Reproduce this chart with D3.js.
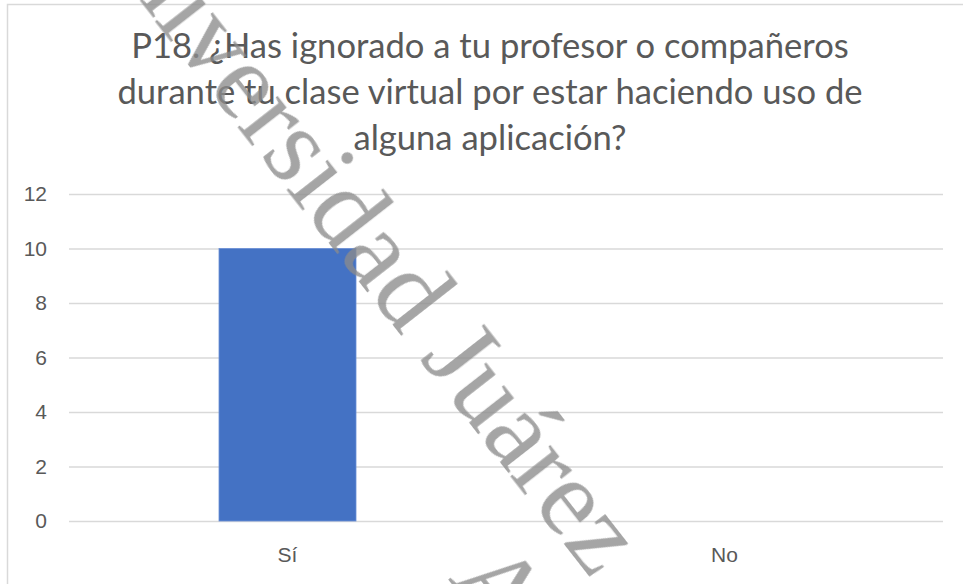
<!DOCTYPE html>
<html>
<head>
<meta charset="utf-8">
<script src="https://cdn.jsdelivr.net/npm/d3@7"></script>
<style>
	body { margin: 0; background: #fff; }
	svg { display: block; font-family: Lato, "Open Sans", sans-serif; }
</style>
</head>
<body>
<div id="chart"></div>
<script>
// Data
var categories = ['Sí', 'No'];
var values = [10, 0];
var yTicks = [0, 2, 4, 6, 8, 10, 12];
var titleLines = [
	'P18. ¿Has ignorado a tu profesor o compañeros',
	'durante tu clase virtual por estar haciendo uso de',
	'alguna aplicación?'
];
var watermarkLines = ['Universidad Juárez', 'Autónoma de Tabasco'];

var width = 963,
	height = 584,
	margin = {top: 194, right: 20, bottom: 63, left: 69},
	plotRight = 943;

var svg = d3.select('#chart').append('svg')
	.attr('width', width)
	.attr('height', height);

// chart frame
svg.append('rect')
	.attr('x', 7.5).attr('y', 4.5)
	.attr('width', width + 20).attr('height', height + 20)
	.attr('fill', 'none')
	.attr('stroke', '#d9d9d9')
	.attr('stroke-width', 1.5);

var x = d3.scaleBand()
	.domain(categories)
	.range([margin.left, plotRight])
	.paddingInner(0.6865)
	.paddingOuter(0.6865 / 2);

var y = d3.scaleLinear()
	.domain([0, 12])
	.range([height - margin.bottom, margin.top]);

// gridlines + y labels
var yAxis = d3.axisLeft(y)
	.tickValues(yTicks)
	.tickSize(-(plotRight - margin.left))
	.tickPadding(22);

var gy = svg.append('g')
	.attr('transform', 'translate(' + margin.left + ',0)')
	.call(yAxis);
gy.select('.domain').remove();
gy.selectAll('line')
	.attr('stroke', '#d9d9d9')
	.attr('stroke-width', 1.5);
gy.selectAll('text')
	.attr('fill', '#595959')
	.style('font-size', '21px');

// bars
svg.append('g').selectAll('rect')
	.data(values)
	.enter().append('rect')
	.attr('x', function(d, i) { return x(categories[i]); })
	.attr('y', function(d) { return y(d); })
	.attr('width', x.bandwidth())
	.attr('height', function(d) { return y(0) - y(d); })
	.attr('fill', '#4472c4')
	.attr('stroke', '#6a8fd6')
	.attr('stroke-width', 0.8);

// x axis labels
var xAxis = d3.axisBottom(x).tickSize(0).tickPadding(26);
var gx = svg.append('g')
	.attr('transform', 'translate(0,' + y(0) + ')')
	.call(xAxis);
gx.select('.domain').remove();
gx.selectAll('text')
	.attr('fill', '#595959')
	.style('font-size', '21px');

// title
svg.append('g').selectAll('text')
	.data(titleLines)
	.enter().append('text')
	.attr('x', 490)
	.attr('y', function(d, i) { return 58 + i * 46; })
	.attr('text-anchor', 'middle')
	.attr('fill', '#595959')
	.style('font-size', '34.6px')
	.text(function(d) { return d; });

// watermark
var angle = 52,
	rad = angle * Math.PI / 180,
	ux = Math.cos(rad), uy = Math.sin(rad),
	upx = Math.sin(rad), upy = -Math.cos(rad);
var wmEnd = [592, 580];
var wm = svg.append('g')
	.attr('opacity', 0.78)
	.style('font-family', '"Liberation Serif", "DejaVu Serif", serif')
	.style('font-size', '110px')
	.attr('fill', '#8c8c8c');

wm.append('text')
	.attr('text-anchor', 'end')
	.attr('transform', 'translate(' + wmEnd + ') rotate(' + angle + ')')
	.text(watermarkLines[0]);

var l2 = [wmEnd[0] - ux * 90 - upx * 113, wmEnd[1] - uy * 90 - upy * 113];
wm.append('text')
	.attr('text-anchor', 'start')
	.attr('transform', 'translate(' + l2 + ') rotate(' + angle + ')')
	.text(watermarkLines[1]);
</script>
</body>
</html>
